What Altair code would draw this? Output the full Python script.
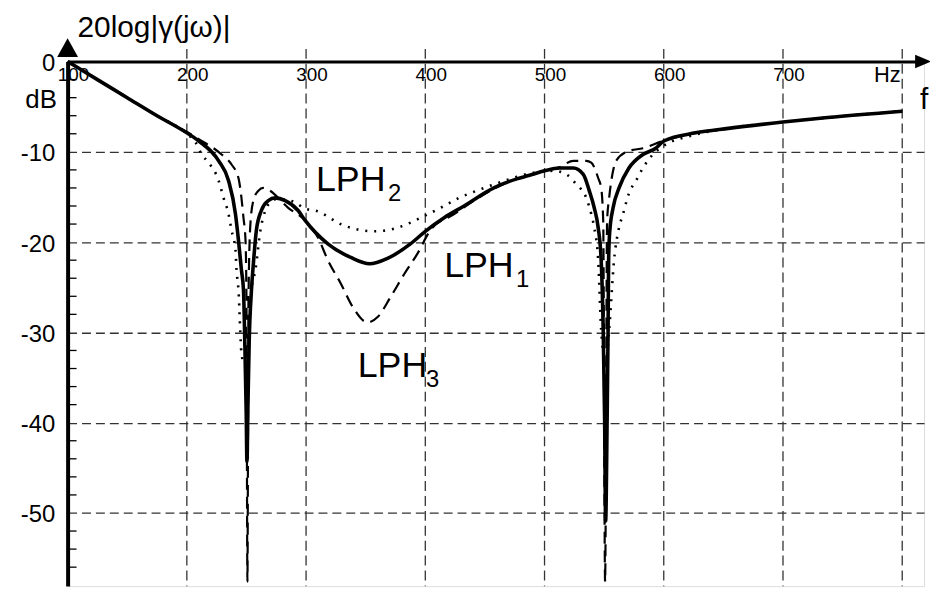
import altair as alt
import pandas as pd

# ---------------- data ----------------
# LPH1 (solid)
lph1_f = [100, 125, 150, 175, 200, 210, 226.7, 235, 240.8, 243.3, 245.8, 247.5, 248.75, 249.8, 250.4,
          251.25, 252.3, 254.2, 255.8, 258.3, 262.5, 268.3, 274.2, 282.5, 293.3, 299.2, 318.3, 337.5,
          353.3, 368.3, 387.5, 400, 415.8, 432.5, 457.5, 476.7, 487.5, 500, 512.5, 524.2, 532.5, 537.5,
          541.7, 545, 547.5, 549.2, 550.4, 551.25, 552.5, 553.3, 553.75, 554.6, 557.5, 562.5, 570.8,
          582.5, 593.3, 600, 626.7, 654.2, 700, 737.5, 800]
lph1_db = [0, -2.0, -4.0, -6.0, -7.9, -8.8, -11.0, -13.2, -16.9, -19.8, -23.1, -25.3, -32.0, -39.0, -44.3,
           -38.0, -31.0, -25.3, -22.4, -18.7, -16.5, -15.4, -15.1, -15.4, -16.5, -17.6, -20.2, -21.7,
           -22.4, -21.8, -20.2, -18.8, -17.3, -16.0, -14.0, -13.0, -12.6, -12.1, -11.8, -11.8, -12.5, -14.3,
           -16.2, -18.4, -22.0, -29.7, -39.6, -50.9, -39.6, -29.7, -22.0, -19.0, -16.2, -14.0, -11.8,
           -10.3, -9.6, -8.8, -7.9, -7.4, -6.7, -6.2, -5.5]

# LPH3 (dashed)
lph3_f = [100, 125, 150, 175, 200, 210, 229.2, 237.5, 243.3, 245.8, 247.5, 249.2, 250, 250.8, 251.7,
          253.3, 255.8, 260, 264.2, 268.3, 285, 299.2, 310, 318.3, 329.2, 339.2, 351.7, 360, 370.8,
          382.5, 393.3, 404.2, 424.2, 443.3, 457.5, 476.7, 487.5, 500, 512.5, 524.2, 535, 539.2, 545,
          547.5, 549.2, 550.8, 552.5, 554.2, 557.5, 560, 570.8, 582.5, 599.2, 626.7, 654.2, 700,
          737.5, 800]
lph3_db = [0, -2.0, -4.0, -6.0, -7.8, -8.6, -10.3, -11.4, -12.9, -15.1, -17.3, -19.8, -26.4, -57.6, -26.4,
           -18.0, -15.4, -14.3, -14.0, -14.2, -16.2, -17.6, -19.5, -22.0, -24.6, -27.2, -28.9, -28.3, -26.1,
           -23.5, -21.3, -18.7, -16.9, -15.2, -14.1, -13.0, -12.6, -12.1, -11.7, -11.0, -11.0, -11.2, -12.9,
           -14.0, -17.6, -57.6, -17.6, -15.1, -12.1, -11.0, -9.9, -9.6, -8.8, -7.9, -7.4, -6.7,
           -6.2, -5.5]

# LPH2 (dotted)
lph2_f = [100, 125, 150, 175, 200, 207.5, 212.5, 218.3, 226.7, 230.8, 235, 237.5, 240.8, 241.7, 243.3,
          245.8, 248.3, 251.7, 254.2, 257.5, 261.7, 265.8, 270, 276.7, 290.8, 299.2, 307.5, 332.5, 357.5,
          376.7, 399.2, 415.8, 426.7, 443.3, 460, 487.5, 507.5, 518.3, 526.7, 535, 539.2, 541.7, 545,
          547.5, 551.25, 554.2, 558.3, 562.5, 565.8, 570.8, 576.7, 582.5, 590.8, 599.2, 626.7, 654.2,
          700, 737.5, 800]
lph2_db = [0, -2.0, -4.0, -6.0, -8.0, -9.0, -10.3, -11.2, -13.2, -15.1, -16.9, -18.7, -20.9, -23.1, -25.3,
           -32.3, -33.6, -30.8, -25.3, -23.1, -18.7, -16.5, -15.6, -15.2, -15.6, -16.3, -16.5, -18.2, -18.8,
           -18.4, -17.1, -16.0, -15.2, -14.3, -13.5, -12.4, -12.1, -12.5, -13.6, -15.1, -16.9, -18.4, -22.0,
           -29.7, -33.4, -29.7, -22.0, -18.4, -16.9, -14.6, -13.2, -11.8, -10.3, -9.4, -8.1, -7.4,
           -6.7, -6.2, -5.5]

grid_f = [200, 300, 400, 500, 600, 700, 800]
y_major = [0, -10, -20, -30, -40, -50]
y_minor = [-2, -4, -6, -8, -12, -14, -16, -18, -22, -24, -26, -28, -32, -34, -36, -38,
           -42, -44, -46, -48, -52, -54, -56]
x_label_f = [100, 200, 300, 400, 500, 600, 700]
x_label_text = ["100", "200", "300", "400", "500", "600", "700"]

# annotation positions (data coordinates)
ann_main = ["LPH", "LPH", "LPH"]
ann_main_f = [308.3, 415.8, 343.3]
ann_main_db = [-14.3, -23.9, -34.9]
ann_sub = ["2", "1", "3"]
ann_sub_f = [368.8, 476.0, 400.5]
ann_sub_db = [-15.4, -25.0, -36.0]

title_text = "20log|γ(jω)|"
title_pos = (108.3, 2.75)
unit_y_text = "dB"
unit_y_pos = (64.5, -5.2)
unit_x_text = "f"
unit_x_pos = (815.0, -5.3)

X_DOMAIN = [100, 818.3]
Y_DOMAIN = [-58.1, 0]
W, H = 862, 528
FONT = "Liberation Sans"

xs = alt.Scale(domain=X_DOMAIN, nice=False, zero=False)
ys = alt.Scale(domain=Y_DOMAIN, nice=False, zero=False)

X = alt.X("f:Q", scale=xs, axis=alt.Axis(orient="top", labels=False, ticks=False, grid=False,
                                          domainWidth=3, domainColor="black", title=None))
Y = alt.Y("db:Q", scale=ys, axis=alt.Axis(orient="left", values=y_major, labelExpr="datum.value + ''",
                                           labelFont=FONT, labelFontSize=24, labelColor="black",
                                           labelPadding=13, labelOffset=2, ticks=False,
                                           domainWidth=4, domainColor="black",
                                           grid=True, gridDash=[9, 5], gridColor="#333",
                                           gridWidth=1.3, title=None))


def series(fs, dbs):
    return pd.DataFrame({"f": fs, "db": dbs})


def text_layer(pos, txt, size):
    return alt.Chart(pd.DataFrame({"f": [pos[0]], "db": [pos[1]], "t": [txt]})).mark_text(
        font=FONT, fontSize=size, color="black", align="left", baseline="alphabetic"
    ).encode(x=X, y=Y, text="t:N")


dotted = alt.Chart(series(lph2_f, lph2_db)).mark_line(
    color="black", strokeWidth=2.6, strokeDash=[2, 7], interpolate="monotone"
).encode(x=X, y=Y)
dashed = alt.Chart(series(lph3_f, lph3_db)).mark_line(
    color="black", strokeWidth=2.2, strokeDash=[12, 7], interpolate="monotone"
).encode(x=X, y=Y)
solid = alt.Chart(series(lph1_f, lph1_db)).mark_line(
    color="black", strokeWidth=3.6, interpolate="monotone"
).encode(x=X, y=Y)

vgrid = alt.Chart(pd.DataFrame({"f": grid_f, "db": [1.4] * len(grid_f),
                                "bot": [Y_DOMAIN[0]] * len(grid_f)})).mark_rule(
    color="#333", strokeWidth=1.3, strokeDash=[10, 5]
).encode(x=X, y=Y, y2="bot:Q")

minor = alt.Chart(pd.DataFrame({"db": y_minor})).mark_rule(color="black", strokeWidth=1.3).encode(
    x=alt.value(0), x2=alt.value(9), y=Y)

xlabels = alt.Chart(pd.DataFrame({"f": x_label_f, "db": [-1.55] * len(x_label_f),
                                  "t": x_label_text})).mark_text(
    font=FONT, fontSize=19, color="black", dx=6, baseline="middle", align="center"
).encode(x=X, y=Y, text="t:N")

hz = alt.Chart(pd.DataFrame({"f": [800], "db": [-1.55], "t": ["Hz"]})).mark_text(
    font=FONT, fontSize=22, color="black", dx=-15, baseline="middle", align="center"
).encode(x=X, y=Y, text="t:N")

title = text_layer(title_pos, title_text, 30)
unit_y = text_layer(unit_y_pos, unit_y_text, 26)
unit_x = text_layer(unit_x_pos, unit_x_text, 30)

main_lbl = alt.Chart(pd.DataFrame({"f": ann_main_f, "db": ann_main_db, "t": ann_main})).mark_text(
    font=FONT, fontSize=36, color="black", align="left", baseline="alphabetic"
).encode(x=X, y=Y, text="t:N")
sub_lbl = alt.Chart(pd.DataFrame({"f": ann_sub_f, "db": ann_sub_db, "t": ann_sub})).mark_text(
    font=FONT, fontSize=24, color="black", align="left", baseline="alphabetic"
).encode(x=X, y=Y, text="t:N")

yarrow = alt.Chart(pd.DataFrame({"f": [100], "db": [1.54]})).mark_point(
    shape="M0,-0.9L1,0.9L-1,0.9Z", size=441, filled=True, color="black", opacity=1
).encode(x=X, y=Y)
xarrow = alt.Chart(pd.DataFrame({"f": [817.5], "db": [0]})).mark_point(
    shape="M1,0L-1,-0.85L-1,0.85Z", size=256, filled=True, color="black", opacity=1
).encode(x=X, y=Y)

chart = alt.layer(vgrid, minor, dotted, dashed, solid, xlabels, hz, title, unit_y, unit_x,
                  main_lbl, sub_lbl, yarrow, xarrow).properties(
    width=W, height=H, autosize="none",
    padding={"left": 60, "top": 52, "right": 6, "bottom": 0},
).configure_view(stroke=None).configure(font=FONT, background="white")

chart.save("out.html", embed_options={"renderer": "svg", "actions": False})
